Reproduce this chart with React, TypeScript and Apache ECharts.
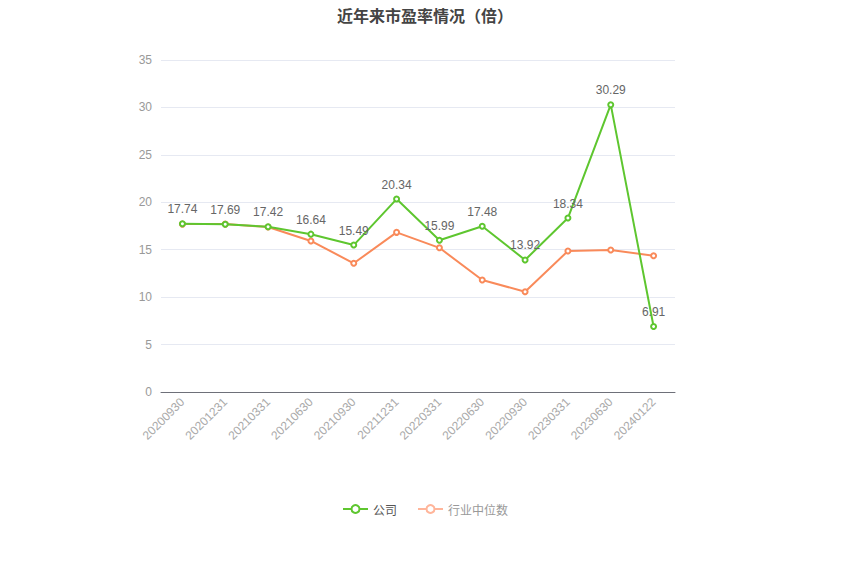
import * as echarts from 'echarts';
import type { ECharts, EChartsOption } from 'echarts';
import React, { useEffect, useRef } from 'react';

const categories = [
  '20200930', '20201231', '20210331', '20210630', '20210930', '20211231',
  '20220331', '20220630', '20220930', '20230331', '20230630', '20240122',
];
const companyPE = [17.74, 17.69, 17.42, 16.64, 15.49, 20.34, 15.99, 17.48, 13.92, 18.34, 30.29, 6.91];
const industryPE = [17.7, 17.7, 17.4, 15.92, 13.57, 16.83, 15.2, 11.8, 10.57, 14.86, 14.97, 14.37];

const App: React.FC = () => {
  const chartRef = useRef<HTMLDivElement>(null);
  const chartInstance = useRef<ECharts | null>(null);

  useEffect(() => {
    if (chartRef.current) {
      chartInstance.current = echarts.init(chartRef.current, undefined, { renderer: 'svg' });

      const option: EChartsOption = {
        animation: false,
        title: {
          text: '近年来市盈率情况（倍）',
          left: 'center',
          top: 2,
          textStyle: {
            fontSize: 16,
            fontWeight: 'bold',
            color: '#444',
            fontFamily: 'Noto Sans CJK SC',
          },
        },
        legend: {
          bottom: 54,
          left: 'center',
          itemWidth: 25,
          itemHeight: 10,
          itemGap: 20,
          textStyle: { color: '#555', fontSize: 12, fontFamily: 'Noto Sans CJK SC' },
          data: [
            { name: '公司' },
            { name: '行业中位数', textStyle: { color: '#999' }, itemStyle: { color: '#ffb59a' }, lineStyle: { color: '#ffb59a' } },
          ],
        },
        grid: {
          left: 161,
          right: 175,
          top: 60,
          bottom: 182,
        },
        xAxis: {
          type: 'category',
          data: categories,
          axisLine: { lineStyle: { color: '#6e7079' } },
          axisTick: { alignWithLabel: true, lineStyle: { color: '#6e7079' } },
          axisLabel: { rotate: 45, color: '#aaa', fontSize: 12, margin: 8 },
        },
        yAxis: {
          type: 'value',
          min: 0,
          max: 35,
          interval: 5,
          axisLine: { show: false },
          axisTick: { show: false },
          axisLabel: { color: '#999', fontSize: 12, margin: 9 },
          splitLine: { lineStyle: { color: '#e6e9f2' } },
        },
        series: [
          {
            name: '公司',
            type: 'line',
            data: companyPE,
            symbol: 'emptyCircle',
            symbolSize: 5,
            lineStyle: { width: 2, color: '#5ec62f' },
            itemStyle: { color: '#5ec62f' },
            label: {
              show: true,
              position: 'top',
              color: '#666',
              fontSize: 12,
              distance: 5,
            },
            z: 3,
          },
          {
            name: '行业中位数',
            type: 'line',
            data: industryPE,
            symbol: 'emptyCircle',
            symbolSize: 5,
            lineStyle: { width: 2, color: '#f98a5a' },
            itemStyle: { color: '#f98a5a' },
            z: 2,
          },
        ],
      };

      chartInstance.current.setOption(option);
    }

    return () => {
      if (chartInstance.current) {
        chartInstance.current.dispose();
        chartInstance.current = null;
      }
    };
  }, []);

  return (
    <div
      ref={chartRef}
      style={{ position: 'absolute', left: 0, top: 0, width: '850px', height: '574px', background: '#fff' }}
    />
  );
};

export default App;
